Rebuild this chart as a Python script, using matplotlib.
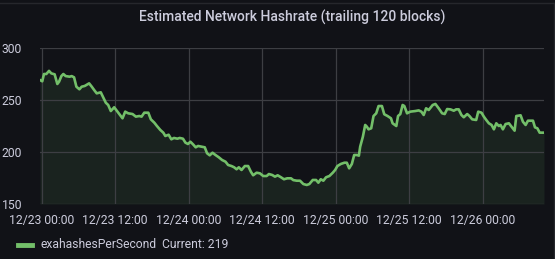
import matplotlib
matplotlib.use("Agg")
import matplotlib.pyplot as plt
import matplotlib.dates as mdates
from matplotlib.lines import Line2D
from datetime import datetime, timedelta

# Hours since 12/23 00:00
hours = [-0.26, 0.11, 0.39, 0.77, 1.21, 1.59, 2.13, 2.57, 2.85, 3.23, 3.55, 3.93, 4.58, 4.91,
         5.30, 5.68, 6.17, 6.55, 7.04, 7.76, 8.19, 8.58, 9.00, 9.66, 10.05, 10.48, 10.87, 11.30,
         11.85, 12.28, 12.83, 13.21, 13.65, 14.14, 14.85, 15.39, 15.95, 16.32, 16.76, 17.42,
         17.84, 18.40, 18.83, 19.38, 19.87, 20.20, 20.74, 21.18, 21.61, 22.17, 22.54, 23.08,
         23.48, 23.90, 24.29, 24.72, 25.16, 25.54, 26.10, 26.64, 27.01, 27.45, 27.90, 28.39,
         28.93, 29.47, 30.02, 30.45, 31.01, 31.43, 31.83, 32.20, 32.64, 33.18, 33.72, 34.17,
         34.54, 35.10, 35.64, 36.18, 36.74, 37.11, 37.65, 38.10, 38.54, 39.08, 39.57, 40.11,
         40.72, 41.09, 41.65, 42.19, 42.73, 43.29, 43.71, 44.27, 44.81, 45.18, 45.58, 46.00,
         46.44, 46.98, 47.54, 47.92, 48.29, 48.85, 49.44, 49.83, 50.21, 50.65, 51.03, 51.47,
         51.80, 52.01, 52.45, 52.83, 53.11, 53.37, 53.81, 54.19, 54.63, 55.01, 55.56, 55.94,
         56.48, 57.04, 57.30, 57.91, 58.19, 58.56, 58.94, 59.22, 59.66, 60.20, 61.02, 61.56,
         62.00, 62.38, 62.77, 63.20, 63.85, 64.29, 64.83, 65.39, 65.81, 66.21, 66.75, 67.29,
         67.68, 68.10, 68.54, 68.92, 69.48, 69.85, 70.30, 70.95, 71.28, 71.82, 72.20, 72.59,
         73.02, 73.46, 73.84, 74.23, 74.65, 74.93, 75.31, 75.75, 76.29, 76.73, 77.22, 77.50,
         78.20, 78.58, 79.02, 79.40, 80.22, 80.55, 80.94, 81.31, 82.02]
exahashesPerSecond = [269.2, 268.0, 275.0, 275.0, 278.0, 275.6, 274.7, 265.4, 267.6, 273.0, 275.0,
                      273.0, 272.4, 273.0, 271.8, 262.8, 260.3, 262.8, 263.5, 266.0, 262.8, 259.6,
                      256.4, 257.4, 252.6, 247.4, 245.2, 239.4, 243.0, 239.7, 235.6, 232.4, 238.8,
                      237.2, 236.5, 234.0, 234.6, 234.0, 237.8, 237.8, 231.4, 228.2, 225.0, 221.2,
                      218.6, 215.4, 216.6, 212.2, 213.5, 212.8, 213.5, 212.8, 209.0, 207.7, 209.9,
                      207.4, 204.5, 205.8, 205.1, 204.5, 198.8, 196.8, 199.3, 197.1, 194.9, 192.3,
                      190.7, 187.5, 186.5, 185.3, 183.4, 185.3, 182.7, 186.5, 186.5, 181.0, 177.6,
                      180.1, 179.5, 176.9, 176.9, 178.8, 177.9, 176.3, 177.6, 175.7, 173.8, 174.7,
                      174.7, 173.0, 172.4, 172.4, 169.2, 168.3, 169.2, 173.1, 173.1, 170.5, 173.8,
                      172.4, 175.7, 176.9, 180.1, 182.7, 186.5, 188.5, 189.7, 189.7, 184.3, 188.5,
                      197.1, 197.1, 196.5, 205.1, 214.7, 226.0, 224.3, 221.8, 222.8, 234.6, 237.2,
                      244.2, 244.2, 236.3, 234.6, 232.4, 227.6, 225.0, 234.6, 236.5, 245.2, 244.2,
                      237.2, 238.8, 239.4, 240.0, 238.8, 235.6, 242.0, 240.4, 245.2, 246.2, 242.0,
                      237.2, 236.5, 241.3, 241.0, 239.7, 241.0, 241.0, 235.6, 233.4, 236.5, 234.6,
                      231.4, 230.8, 238.8, 237.8, 234.0, 230.8, 227.6, 226.0, 221.8, 227.6, 225.0,
                      226.0, 221.8, 226.9, 227.6, 224.3, 220.5, 234.6, 235.3, 229.1, 226.0, 230.1,
                      230.1, 223.7, 222.8, 218.6, 218.6]
yticks = [150, 200, 250, 300]
title = "Estimated Network Hashrate (trailing 120 blocks)"
series_name = "exahashesPerSecond"
current_label = "Current: 219"

base = datetime(2023, 12, 23)
times = [base + timedelta(hours=h) for h in hours]

BG = "#111217"
GREEN = "#73BF69"
TXT = "#ccccdc"
GRID = "#3d3e43"
BORDER = "#26272c"

plt.rcParams['font.family'] = ['Roboto', 'DejaVu Sans']

fig = plt.figure(figsize=(5.55, 2.59), dpi=100, facecolor=BG)
ax = fig.add_axes([40/555, 1-204/259, (544-40)/555, (204-48)/259], facecolor=BG)

ax.fill_between(times, exahashesPerSecond, 150, color=GREEN, alpha=0.1, linewidth=0)
ax.plot(times, exahashesPerSecond, color=GREEN, linewidth=1.9, solid_joinstyle='round')

ax.set_xlim(times[0], times[-1])
ax.set_ylim(150, 300)
ax.set_yticks(yticks)
ax.xaxis.set_major_locator(mdates.HourLocator(byhour=[0, 12]))
ax.xaxis.set_major_formatter(mdates.DateFormatter("%m/%d %H:%M"))

ax.grid(True, color=GRID, linewidth=0.9)
for s in ax.spines.values():
    s.set_visible(False)
ax.tick_params(axis='both', length=0, colors=TXT, labelsize=8.7)
ax.tick_params(axis='y', pad=13)
ax.tick_params(axis='x', pad=7)

# panel border (top and right edges)
fig.add_artist(Line2D([0, 553.5/555], [1-2.5/259, 1-2.5/259], color=BORDER, linewidth=1,
                      transform=fig.transFigure))
fig.add_artist(Line2D([553.5/555, 553.5/555], [0, 1-2.5/259], color=BORDER, linewidth=1,
                      transform=fig.transFigure))

fig.text(292/555, 1-17/259, title, ha='center', va='center', color=TXT,
         fontsize=10, fontweight='medium')

fig.add_artist(Line2D([18/555, 31.5/555], [1-245/259, 1-245/259], color=GREEN, linewidth=3.5,
                      transform=fig.transFigure))
fig.text(40.5/555, 1-245/259, series_name, ha='left', va='center', color=TXT, fontsize=8.7)
fig.text(161.5/555, 1-245/259, current_label, ha='left', va='center', color=TXT, fontsize=8.7)

fig.savefig("out.png", dpi=100, facecolor=BG)
